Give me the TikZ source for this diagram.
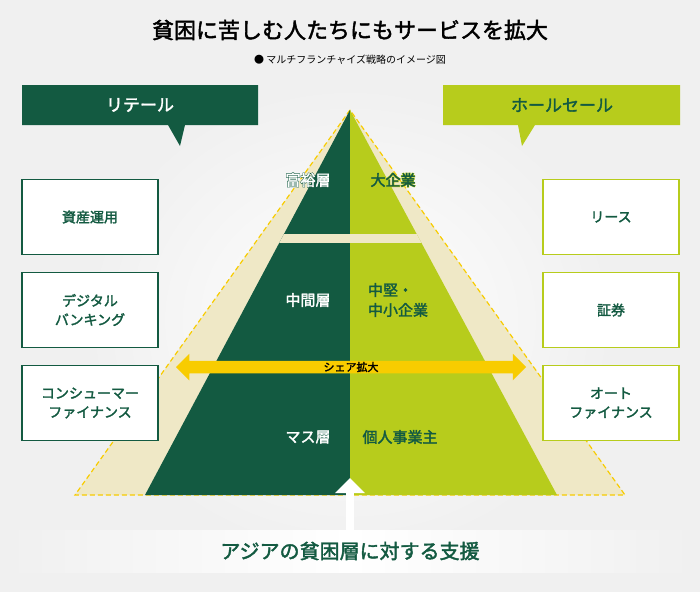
\documentclass[tikz,border=0pt]{standalone}
\usepackage{fontspec}
\setmainfont{Noto Sans CJK JP}
\newfontfamily\jpb{Noto Sans CJK JP}[FakeBold=2]
\newfontfamily\jphalo{Noto Sans CJK JP}[FakeBold=8]
\usetikzlibrary{arrows.meta,shapes.arrows}
\definecolor{dkgreen}{HTML}{135A41}
\definecolor{ltgreen}{HTML}{B7CC1C}
\definecolor{paleyel}{HTML}{EFE8C6}
\definecolor{barcol}{HTML}{F8CC00}
\begin{document}
\begin{tikzpicture}[x=1pt,y=-1pt]
	\tikzset{retail/.style = {draw=dkgreen, line width=1.5pt, fill=white, minimum width=136pt, minimum height=75pt, align=center, text=dkgreen, font=\jpb\fontsize{14}{19}\selectfont}}
	\tikzset{whole/.style = {retail, draw=ltgreen}}
	\tikzset{tier/.style = {text=white, font=\jpb\fontsize{15}{20}\selectfont, align=left}}
	\tikzset{tierr/.style = {tier, text=dkgreen}}
	\tikzset{halo/.style = {tier, font=\jphalo\fontsize{15}{20}\selectfont}}
	
	\useasboundingbox (0,0) rectangle (700,592);
	\fill[gray!12] (0,0) rectangle (700,592);
	\shade[inner color=white, outer color=gray!12] (80,80) rectangle (620,560);
	
	\node[font=\jpb\fontsize{22}{26}\selectfont] (title) at (350,30) {貧困に苦しむ人たちにもサービスを拡大};
	\node[font=\fontsize{10}{12}\selectfont] (sub) at (350,60) {● マルチフランチャイズ戦略のイメージ図};
	
	% banners
	\fill[dkgreen] (22,85) -- (258,85) -- (258,125) -- (185,125) -- (180,146) -- (168,125) -- (22,125) -- cycle;
	\node[text=white, font=\jpb\fontsize{17}{20}\selectfont] (retail) at (140,105) {リテール};
	\fill[ltgreen] (443,85) -- (680,85) -- (680,125) -- (535,125) -- (522,146) -- (518,125) -- (443,125) -- cycle;
	\node[text=dkgreen, font=\jpb\fontsize{17}{20}\selectfont] (whole) at (562,105) {ホールセール};
	
	% pyramids
	\fill[paleyel] (350,110) -- (75,495) -- (625,495) -- cycle;
	\draw[barcol, line width=1.2pt, dash pattern=on 5pt off 3pt] (350,110) -- (75,495) -- (625,495) -- cycle;
	\fill[dkgreen] (350,110) -- (145,495) -- (350,495) -- cycle;
	\fill[ltgreen] (350,110) -- (557,495) -- (350,495) -- cycle;
	\begin{scope}
		\clip (350,110) -- (145,495) -- (557,495) -- cycle;
		\fill[paleyel] (200,234) rectangle (500,243);
	\end{scope}
	
	\node[halo, text=dkgreen] (richh) at (308,180) {富裕層};
	\node[halo, text=ltgreen] (largeh) at (393,180) {大企業};
	\node[tier]  (rich)  at (308,180) {富裕層};
	\node[tierr] (large) at (393,180) {大企業};
	\node[tier]  (mid)   at (308,300) {中間層};
	\node[tierr] (sme)   at (398,300) {中堅・\\中小企業};
	\node[tier]  (mass)  at (308,437) {マス層};
	\node[tierr] (solo)  at (400,437) {個人事業主};
	
	\node[double arrow, fill=barcol, minimum width=25pt, double arrow head extend=7pt, minimum height=350pt, inner sep=1pt, font=\jpb\fontsize{11}{12}\selectfont, text=black] (share) at (351,367) {シェア拡大};
	
	% service boxes
	\node[retail] (r1) at (90,217) {資産運用};
	\node[retail] (r2) at (90,310) {デジタル\\バンキング};
	\node[retail] (r3) at (90,403) {コンシューマー\\ファイナンス};
	\node[whole]  (w1) at (611,217) {リース};
	\node[whole]  (w2) at (611,310) {証券};
	\node[whole]  (w3) at (611,403) {オート\\ファイナンス};
	
	% bottom
	\shade[left color=gray!12, right color=gray!12, middle color=white] (0,530) rectangle (700,572);
	\node[single arrow, shape border rotate=90, fill=white, minimum width=30pt, single arrow head extend=10pt, minimum height=52pt] (up) at (350,506) {};
	\node[text=dkgreen, font=\jpb\fontsize{20}{24}\selectfont] (aid) at (350,551) {アジアの貧困層に対する支援};
\end{tikzpicture}
\end{document}
